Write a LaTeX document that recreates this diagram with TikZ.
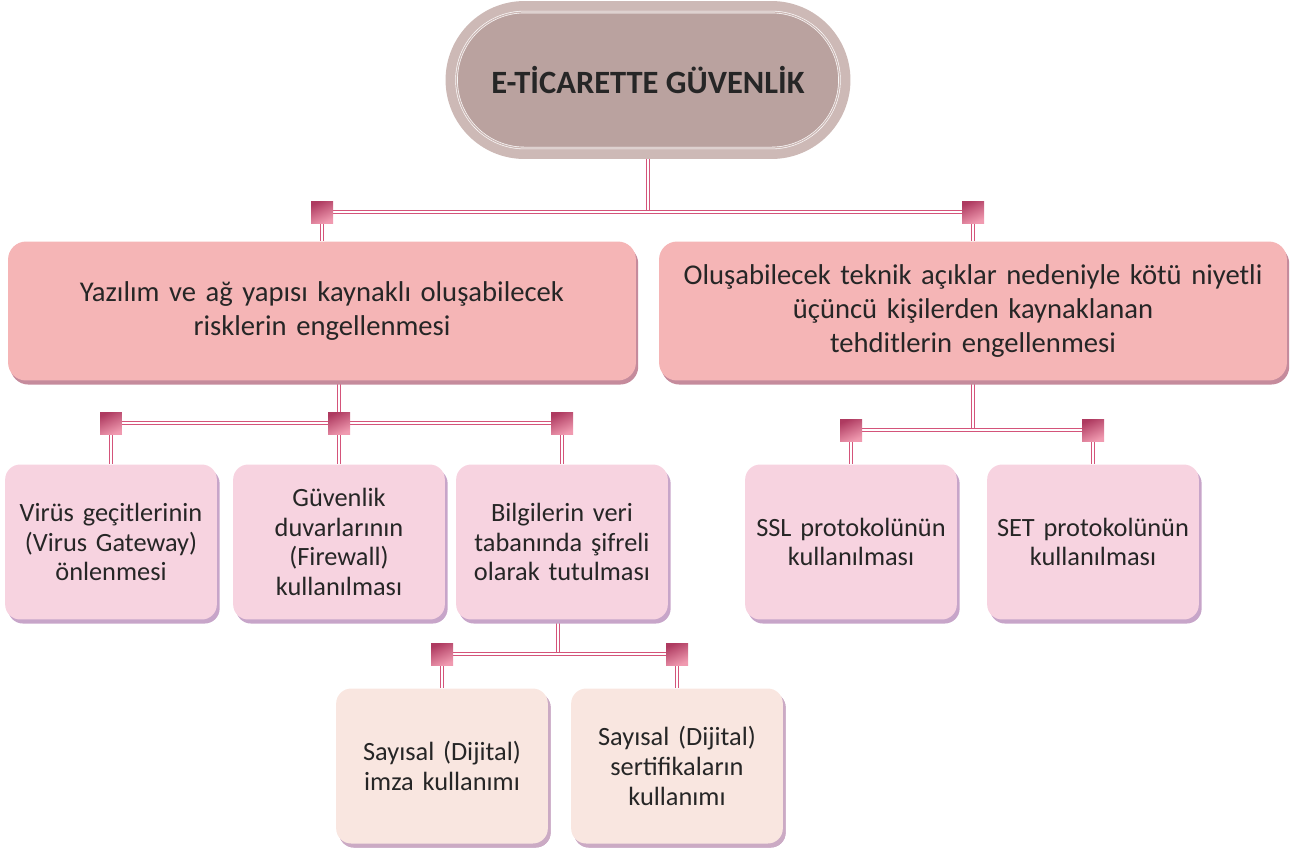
\documentclass[tikz,border=0pt]{standalone}
\usepackage{fontspec}
\setmainfont{Carlito}
\usetikzlibrary{positioning,shadows,backgrounds}

\definecolor{pillfill}{HTML}{BAA29F}
\definecolor{pillrim}{HTML}{CDB9B6}
\definecolor{riskfill}{HTML}{F5B5B6}
\definecolor{riskshade}{HTML}{C58B9C}
\definecolor{subfill}{HTML}{F7D3E0}
\definecolor{subshade}{HTML}{C7A5C9}
\definecolor{leaffill}{HTML}{F9E6E0}
\definecolor{leafshade}{HTML}{CBAAC4}
\definecolor{linkred}{HTML}{D4547A}
\definecolor{knotdark}{HTML}{AE3A60}
\definecolor{knotlight}{HTML}{F09AB0}

\tikzset{
  pill/.style={rectangle, rounded corners=1.58cm, minimum width=8.1cm, minimum height=3.16cm,
    fill=pillrim, text=black!85, font=\fontsize{18.5}{22}\selectfont\bfseries,
    path picture={\draw[draw=white, line width=0.35pt, double=pillrim, double distance=0.7pt,
      fill=pillfill, rounded corners=1.36cm]
      ([shift={(11,11)}]path picture bounding box.north west) rectangle
      ([shift={(-11,-11)}]path picture bounding box.south east);}},
  mainbox/.style={rectangle, rounded corners=0.36cm, minimum width=12.56cm, minimum height=2.78cm,
    fill=riskfill, text=black!85, text width=12.3cm, align=center,
    font=\fontsize{16.3}{19.4}\selectfont,
    drop shadow={shadow xshift=1.3pt, shadow yshift=-2.3pt, fill=riskshade, opacity=1}},
  subbox/.style={rectangle, rounded corners=0.3cm, minimum width=4.1cm, minimum height=3.1cm,
    fill=subfill, text=black!85, text width=4cm, align=center,
    font=\fontsize{15}{17}\selectfont,
    drop shadow={shadow xshift=1.6pt, shadow yshift=-2.3pt, fill=subshade, opacity=1}},
  leafbox/.style={subbox, fill=leaffill,
    drop shadow={shadow xshift=1.6pt, shadow yshift=-2.3pt, fill=leafshade, opacity=1}},
  knot/.style={rectangle, minimum size=0.44cm, inner sep=0pt,
    top color=knotdark, bottom color=knotlight, shading angle=25},
  link/.style={draw=linkred, line width=0.7pt, double=white, double distance=1.1pt},
}

\begin{document}
\begin{tikzpicture}[x=0.02cm, y=-0.02cm]
    \useasboundingbox (0,0) rectangle (1306,850);
    % rows of the small squares
    \coordinate (barA) at (0,212);
    \coordinate (barB) at (0,423);
    \coordinate (barC) at (0,430);
    \coordinate (barD) at (0,654);

    \node (title) [pill] at (648,80) {E-TİCARETTE GÜVENLİK};

    \node (risk)   [mainbox] at (322,311) {Yazılım ve ağ yapısı kaynaklı oluşabilecek\\risklerin engellenmesi};
    \node (threat) [mainbox] at (973,311) {Oluşabilecek teknik açıklar nedeniyle kötü niyetli\\üçüncü kişilerden kaynaklanan\\tehditlerin engellenmesi};

    \node (virus)  [subbox] at (111,542) {Virüs geçitlerinin\\(Virus Gateway)\\önlenmesi};
    \node (wall)   [subbox] at (339,542) {Güvenlik\\duvarlarının\\(Firewall)\\kullanılması};
    \node (cipher) [subbox] at (562,542) {Bilgilerin veri\\tabanında şifreli\\olarak tutulması};
    \node (ssl)    [subbox] at (851,542) {SSL protokolünün\\kullanılması};
    \node (setp)   [subbox] at (1093,542) {SET protokolünün\\kullanılması};

    \node (imza)   [leafbox] at (442,766) {Sayısal (Dijital)\\imza kullanımı};
    \node (sert)   [leafbox] at (677,766) {Sayısal (Dijital)\\sertifikaların\\kullanımı};

    \foreach \n/\r in {risk/barA, threat/barA, virus/barB, wall/barB, cipher/barB,
        ssl/barC, setp/barC, imza/barD, sert/barD}
    {
        \node (k\n) [knot] at (\n |- \r) {};
    };

    \begin{scope}[on background layer]
        \draw[link] (title.south) -- (title.south |- krisk);
        \draw[link] (risk.south -| kwall) -- (kwall);
        \draw[link] (threat.south) -- (threat.south |- kssl);
        \draw[link] ([xshift=-0.08cm]cipher.south) -- ([xshift=-0.08cm]cipher.south |- kimza);
        \foreach \n in {risk,threat,virus,wall,cipher,ssl,setp,imza,sert}
            \draw[link] (k\n) -- (\n.north);
        \draw[link] (krisk) -- (kthreat);
        \draw[link] (kvirus) -- (kcipher);
        \draw[link] (kssl) -- (ksetp);
        \draw[link] (kimza) -- (ksert);
    \end{scope}
\end{tikzpicture}
\end{document}
